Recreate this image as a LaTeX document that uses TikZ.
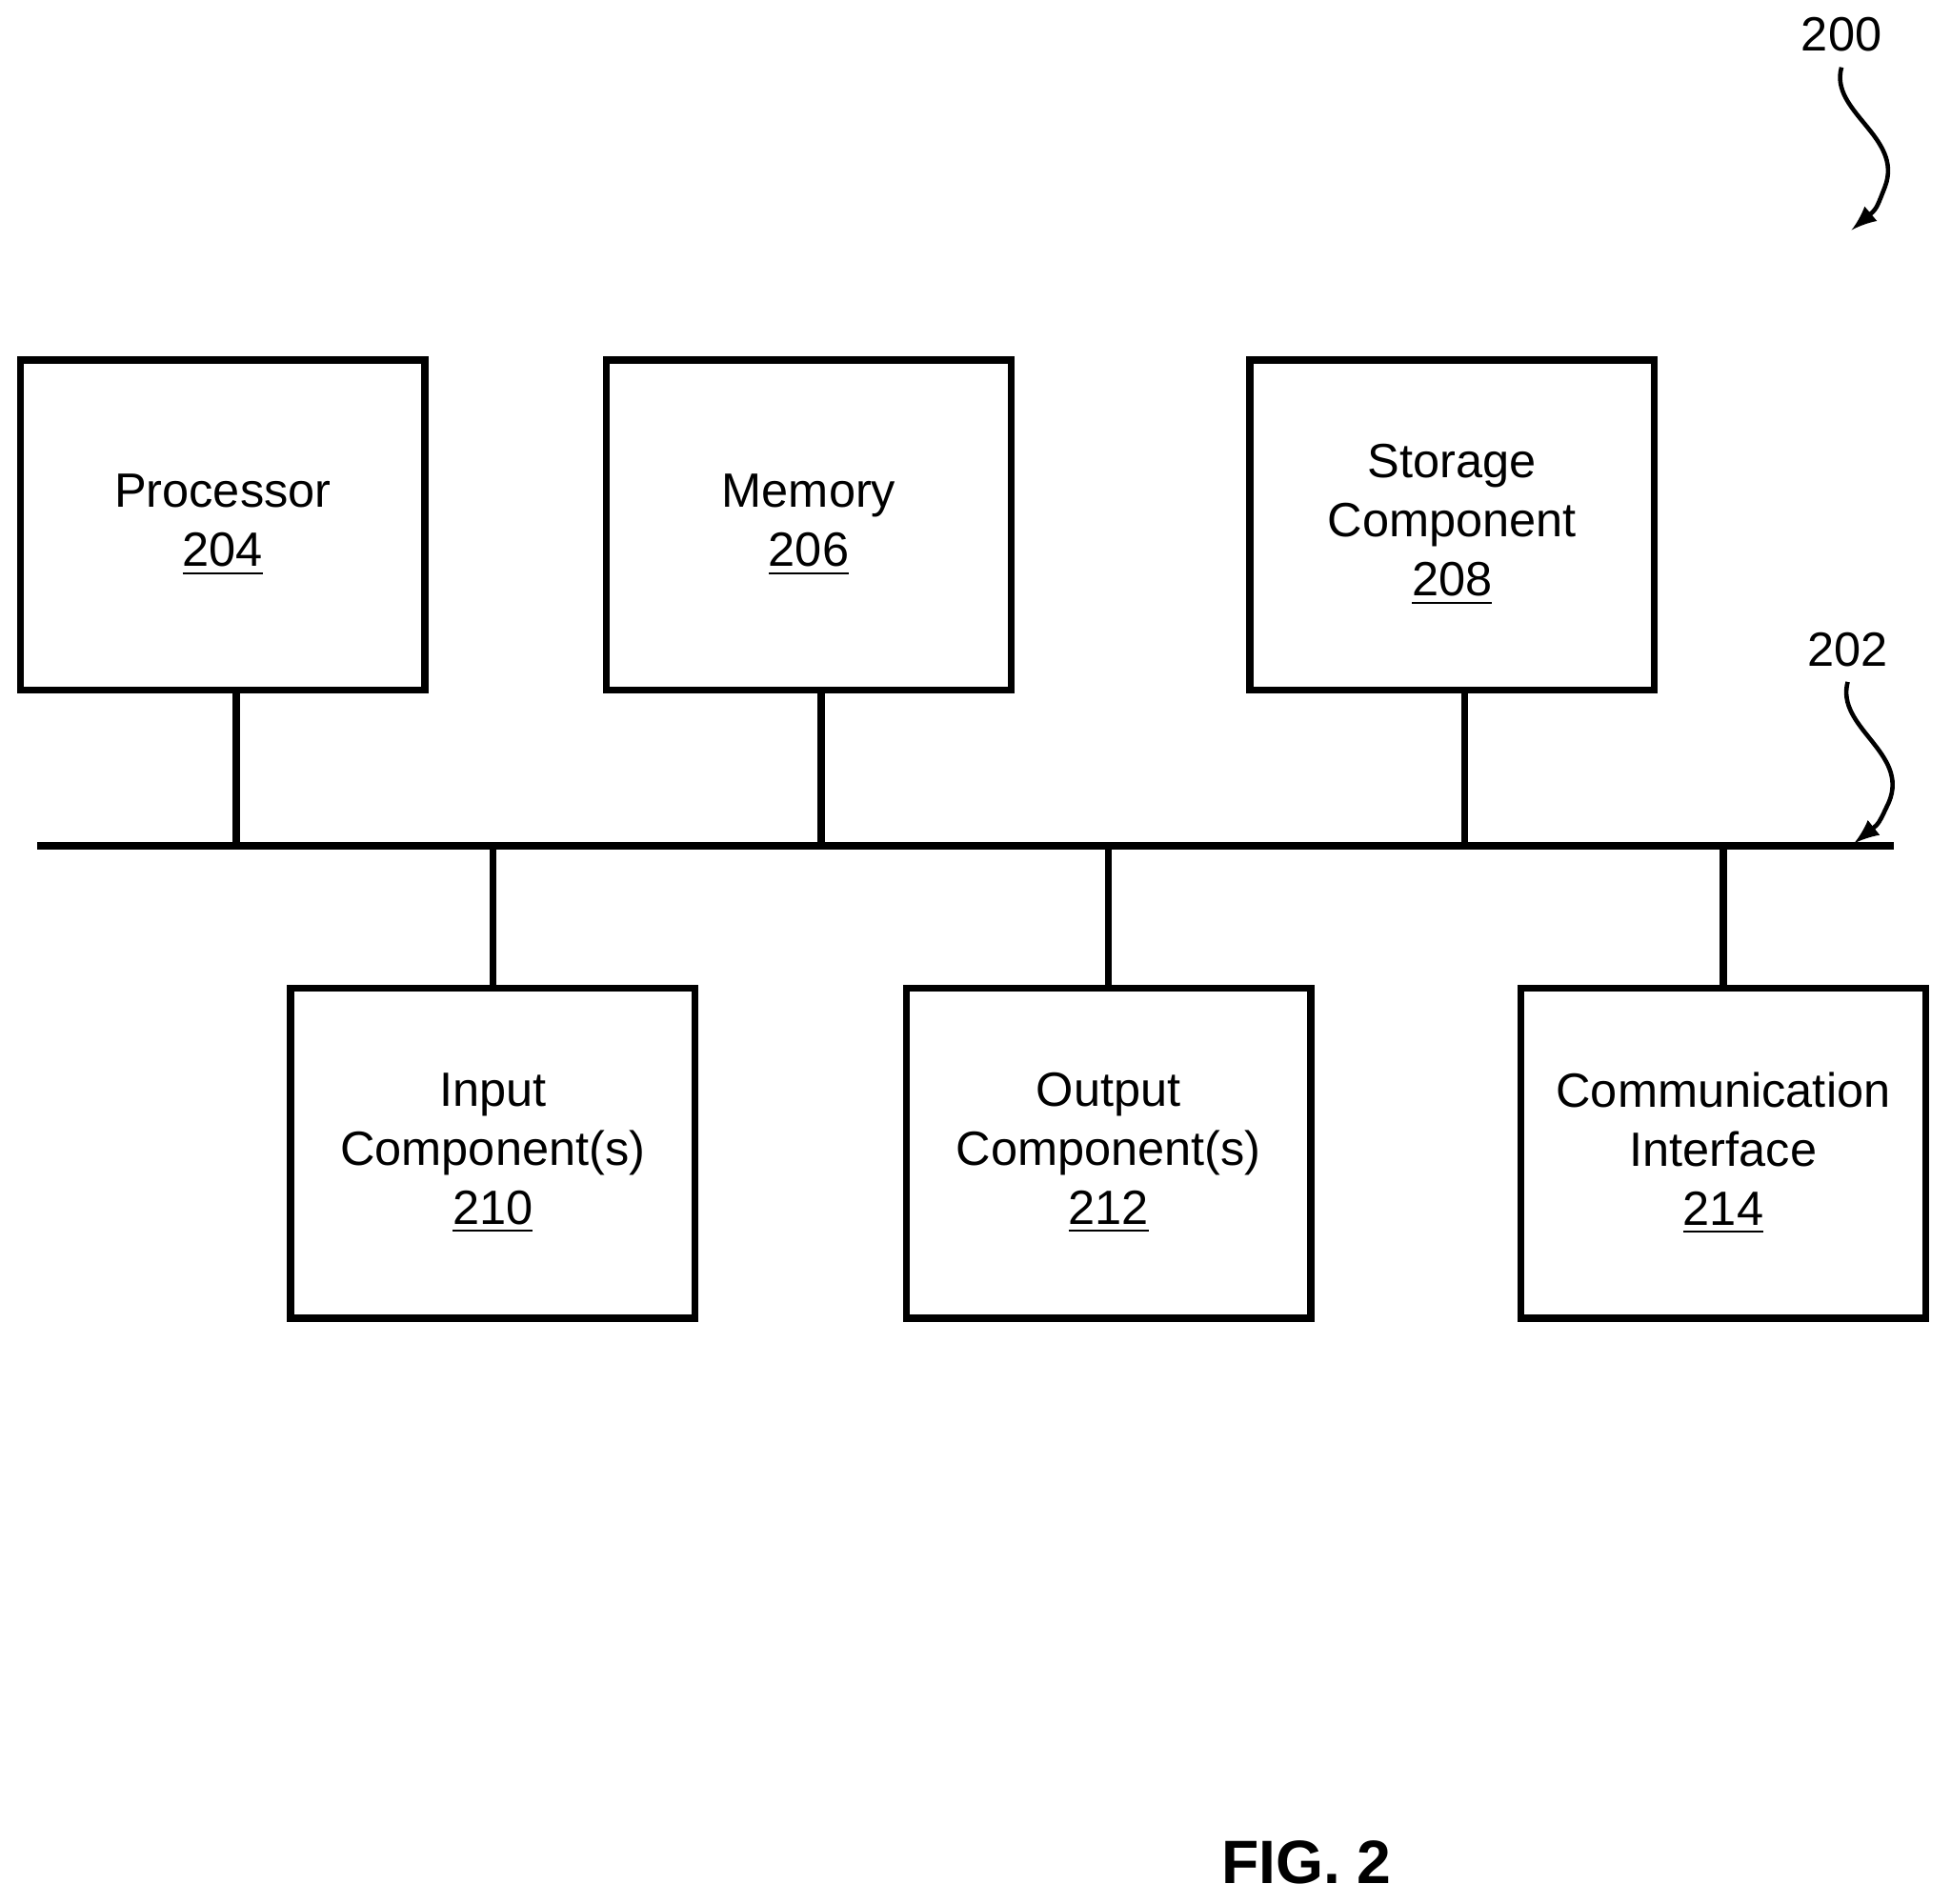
\documentclass[tikz,border=0pt]{standalone}
\usepackage{fontspec}
\setmainfont{Liberation Sans}
\usetikzlibrary{positioning}
\begin{document}
\begin{tikzpicture}[x=0.01cm,y=-0.01cm,
  unit/.style={draw, line width=1.6pt, minimum width=3.25cm, minimum height=2.65cm,
    align=center, font=\fontsize{11}{13.5}\selectfont},
  link/.style={line width=1.6pt},
  ref/.style={font=\fontsize{11}{13}\selectfont}]
\useasboundingbox (0,0) rectangle (1568,1530);
% top row
\node [unit] (proc) at (179,422) {Processor\\\underline{204}};
\node [unit] (mem) at (650,422) {Memory\\\underline{206}};
\node [unit] (stor) at (1167,422) {Storage\\Component\\\underline{208}};
% bottom row
\node [unit] (inp) at (396,927) {Input\\Component(s)\\\underline{210}};
\node [unit] (outp) at (891,927) {Output\\Component(s)\\\underline{212}};
\node [unit] (comm) at (1385,927) {Communication\\Interface\\\underline{214}};
% bus
\coordinate (busL) at (30,680);
\coordinate (busR) at (1522,680);
\draw [link] (busL) -- (busR);
\draw [link] (proc.south -| 190,0) -- (190,680);
\draw [link] (mem.south -| 660,0) -- (660,680);
\draw [link] (stor.south -| 1177,0) -- (1177,680);
\draw [link] (inp.north) -- (inp.north |- busL);
\draw [link] (outp.north) -- (outp.north |- busL);
\draw [link] (comm.north) -- (comm.north |- busL);
% reference numerals
\node [ref] (n200) at (1480,28) {200};
\coordinate (a200) at (1488,185);
\draw [line width=1pt, -latex] (n200.south) .. controls (1470,90) and (1530,110) .. (1515,150) .. controls (1508,168) .. (a200);
\node [ref] (n202) at (1485,522) {202};
\coordinate (a202) at (1490,678);
\draw [line width=1pt, -latex] (n202.south) .. controls (1475,585) and (1535,605) .. (1518,645) .. controls (1510,662) .. (a202);
\node [font=\bfseries\fontsize{14}{16}\selectfont] (fig) at (1050,1497) {FIG. 2};
\end{tikzpicture}
\end{document}
